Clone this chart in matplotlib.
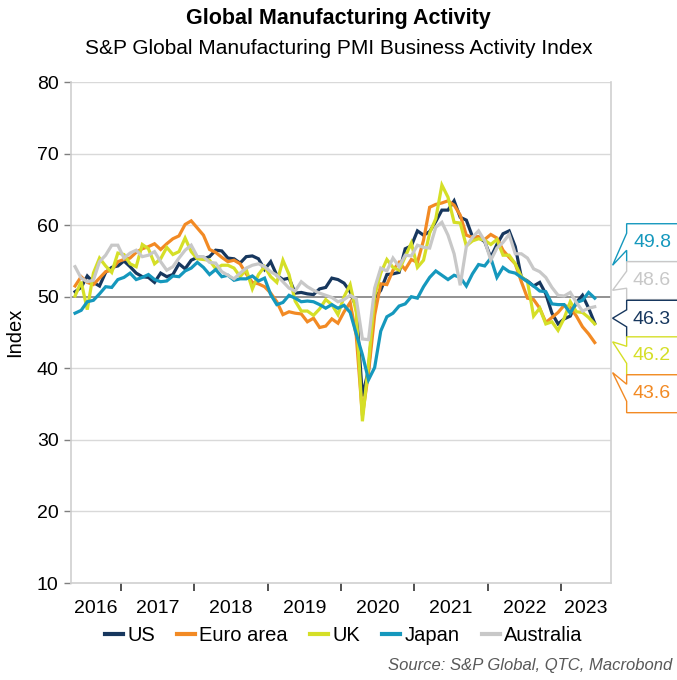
import matplotlib
matplotlib.use("Agg")
import matplotlib.pyplot as plt
import matplotlib.transforms as mtransforms
from matplotlib.patches import Polygon
import numpy as np
import pandas as pd

plt.rcParams["font.family"] = ["Liberation Sans", "DejaVu Sans"]

# monthly manufacturing PMI, May 2016 .. Jun 2023
months = pd.period_range("2016-05", "2023-06", freq="M")

us = [50.7, 51.3, 52.9, 52.0, 51.5, 53.4, 54.1, 54.3,
      55.0, 54.2, 53.3, 52.8, 52.7, 52.0, 53.3, 52.8, 53.1, 54.6, 53.9, 55.1,
      55.5, 55.3, 55.6, 56.5, 56.4, 55.4, 55.3, 54.7, 55.6, 55.7, 55.3, 53.8,
      54.9, 53.0, 52.4, 52.6, 50.5, 50.6, 50.4, 50.3, 51.1, 51.3, 52.6, 52.4,
      51.9, 50.7, 48.5, 36.1, 39.8, 49.8, 50.9, 53.1, 53.2, 53.4, 56.7, 57.1,
      59.2, 58.6, 59.1, 60.5, 62.1, 62.1, 63.4, 61.1, 60.7, 58.4, 58.3, 57.7,
      55.5, 57.3, 58.8, 59.2, 57.0, 52.7, 52.2, 51.5, 52.0, 50.4, 47.7, 46.2,
      46.9, 47.3, 49.2, 50.2, 48.4, 46.3]
euro = [51.5, 52.8, 52.0, 51.7, 52.6, 53.5, 53.7, 54.9,
        55.2, 55.4, 56.2, 56.7, 57.0, 57.4, 56.6, 57.4, 58.1, 58.5, 60.1, 60.6,
        59.6, 58.6, 56.6, 56.2, 55.5, 54.9, 55.1, 54.6, 53.2, 52.0, 51.8, 51.4,
        50.5, 49.3, 47.5, 47.9, 47.7, 47.6, 46.5, 47.0, 45.7, 45.9, 46.9, 46.3,
        47.9, 49.2, 44.5, 33.4, 39.4, 47.4, 51.8, 51.7, 53.7, 54.8, 53.8, 55.2,
        54.8, 57.9, 62.5, 62.9, 63.1, 63.4, 62.8, 61.4, 58.6, 58.3, 58.4, 58.0,
        58.7, 58.2, 56.5, 55.5, 54.6, 52.1, 49.8, 49.6, 48.4, 46.4, 47.1, 47.8,
        48.8, 48.5, 47.3, 45.8, 44.8, 43.6]
uk = [50.1, 52.1, 48.2, 53.3, 55.4, 54.3, 53.4, 56.1,
      55.9, 54.6, 54.2, 57.3, 56.7, 54.6, 55.3, 56.9, 55.9, 56.3, 58.2, 56.3,
      55.3, 55.2, 55.1, 53.9, 54.4, 54.4, 54.0, 52.8, 53.8, 51.1, 53.1, 54.2,
      52.8, 52.0, 55.1, 53.1, 49.4, 48.0, 48.0, 47.4, 48.3, 49.6, 48.9, 47.5,
      50.0, 51.7, 47.8, 32.6, 40.7, 50.1, 53.3, 55.2, 54.1, 53.7, 55.6, 57.5,
      54.1, 55.1, 58.9, 60.9, 65.6, 63.9, 60.4, 60.3, 57.1, 57.8, 58.1, 57.9,
      57.3, 58.0, 55.8, 55.8, 54.6, 52.8, 52.1, 47.3, 48.4, 46.2, 46.5, 45.3,
      47.0, 49.3, 47.9, 47.8, 47.1, 46.2]
japan = [47.7, 48.1, 49.3, 49.5, 50.4, 51.4, 51.3, 52.4,
         52.7, 53.3, 52.4, 52.7, 53.1, 52.4, 52.1, 52.2, 52.9, 52.8, 53.6, 54.0,
         54.8, 54.1, 53.1, 53.8, 52.8, 53.0, 52.3, 52.5, 52.5, 52.9, 52.2, 52.6,
         50.3, 48.9, 49.2, 50.2, 49.8, 49.3, 49.4, 49.3, 48.9, 48.4, 48.9, 48.4,
         48.8, 47.8, 44.8, 41.9, 38.4, 40.1, 45.2, 47.2, 47.7, 48.7, 49.0, 50.0,
         49.8, 51.4, 52.7, 53.6, 53.0, 52.4, 53.0, 52.7, 51.5, 53.2, 54.5, 54.3,
         55.4, 52.7, 54.1, 53.5, 53.3, 52.7, 52.1, 51.5, 50.8, 50.7, 49.0, 48.9,
         48.9, 47.7, 49.2, 49.5, 50.6, 49.8]
australia = [54.2, 52.6, 52.1, 52.3, 54.9, 55.8, 57.2, 57.2,
             55.4, 56.1, 56.5, 55.6, 55.8, 56.3, 54.9, 53.7, 54.2, 55.4, 56.5, 57.2,
             55.6, 55.6, 54.8, 54.7, 53.5, 53.0, 52.5, 53.3, 54.0, 54.4, 54.6, 54.2,
             53.5, 53.0, 52.1, 51.2, 50.8, 52.1, 51.4, 50.9, 50.5, 50.2, 49.9, 49.3,
             49.6, 50.2, 49.7, 44.1, 44.0, 51.2, 54.0, 53.6, 55.4, 54.2, 55.8, 55.7,
             57.2, 56.9, 56.8, 59.7, 60.4, 58.6, 56.0, 51.6, 57.0, 58.3, 59.2, 57.8,
             55.1, 56.8, 57.6, 58.7, 56.0, 56.0, 55.4, 53.9, 53.5, 52.7, 51.3, 50.2,
             50.1, 50.6, 49.2, 48.0, 48.4, 48.6]

names = ["US", "Euro area", "UK", "Japan", "Australia"]
colors = ["#17375e", "#f28a24", "#d5df27", "#1598bd", "#c8c8c8"]
series = [us, euro, uk, japan, australia]

year_labels = [2016, 2017, 2018, 2019, 2020, 2021, 2022, 2023]

x = np.array([p.year + (p.month - 0.5) / 12 for p in months])
x0, x1 = 2016.32, 2023.68

fig = plt.figure(figsize=(6.77, 6.80), dpi=100)
ax = fig.add_axes([0.1049, 0.1426, 0.7976, 0.7368])

for name, col, vals in zip(names, colors, series):
    ax.plot(x, vals, color=col, lw=2.3, label=name, solid_joinstyle="miter")

ax.set_xlim(x0, x1)
ax.set_ylim(10, 80)
ax.set_yticks(range(10, 81, 10))
for v in range(20, 81, 10):
    ax.axhline(v, color="#7f7f7f" if v == 50 else "#d9d9d9", lw=1.2 if v == 50 else 1.0, zorder=0)

# year ticks at Jan 1, labels centred on the visible part of each year
ax.set_xticks(range(2017, 2024))
ax.set_xticklabels([])
centers = [(max(y, x0) + min(y + 1, x1)) / 2 for y in year_labels]
ax.set_xticks(centers, minor=True)
ax.set_xticklabels([str(y) for y in year_labels], minor=True)
ax.tick_params(axis="x", which="major", length=6, width=1.2, color="#333333", direction="out")
ax.tick_params(axis="x", which="minor", length=0, pad=12, labelsize=14)
ax.tick_params(axis="y", length=5, width=1, color="#7f7f7f", labelsize=14, pad=4)

for side in ["left", "right", "bottom"]:
    ax.spines[side].set_color("#d0d0d0")
    ax.spines[side].set_linewidth(1.2)
ax.spines["top"].set_visible(False)

ax.set_ylabel("Index", fontsize=14.5, labelpad=9)

fig.text(0.5, 0.973, "Global Manufacturing Activity", ha="center", va="center",
         fontsize=15.5, fontweight="bold")
fig.text(0.5, 0.929, "S&P Global Manufacturing PMI Business Activity Index", ha="center",
         va="center", fontsize=15)
fig.text(0.993, 0.022, "Source: S&P Global, QTC, Macrobond", ha="right", va="center",
         fontsize=12, style="italic", color="#595959")

leg = ax.legend(loc="center", bbox_to_anchor=(0.505, -0.104), ncol=5, frameon=False,
                fontsize=14.5, handlelength=0.9, handletextpad=0.2, columnspacing=1.1)
for h in leg.get_lines():
    h.set_linewidth(3)

# value callouts on the right
trans = mtransforms.blended_transform_factory(ax.transAxes, ax.transData)
box_tops = [60.2, 54.9, 49.5, 44.4, 39.1]
box_h = 5.3
tips = [54.4, 50.9, 47.0, 43.7, 39.4]
order = [3, 4, 0, 2, 1]
for k, idx in enumerate(order):
    col = colors[idx]
    top = box_tops[k]
    bot = top - box_h
    bl, br = 1.029, 1.25
    pts = [(bl, top), (br, top), (br, bot), (bl, bot),
           (bl, top - 0.7 * box_h), (1.003, tips[k]), (bl, top - 0.25 * box_h)]
    poly = Polygon(pts, closed=True, transform=trans, facecolor="white",
                   edgecolor=col, lw=1.0, clip_on=False, zorder=5)
    ax.add_patch(poly)
    ax.text(1.076, top - box_h / 2, f"{series[idx][-1]:.1f}", transform=trans,
            ha="center", va="center", fontsize=14, color=col, zorder=6, clip_on=False)

fig.savefig("out.png", dpi=100)
